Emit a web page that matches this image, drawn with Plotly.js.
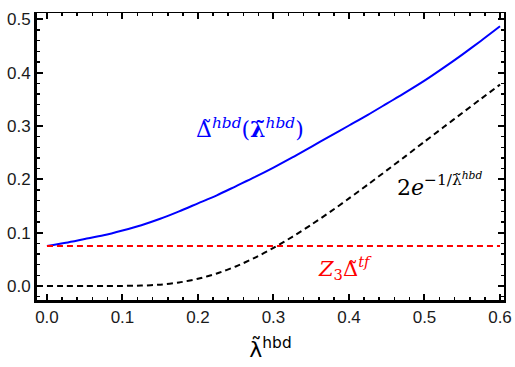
<!DOCTYPE html>
<html>
<head>
<meta charset="utf-8">
<script src="https://cdn.plot.ly/plotly-3.0.1.min.js"></script>
<style>
  html, body { margin: 0; padding: 0; background: #fff; }
  #chart { width: 515px; height: 367px; }
</style>
</head>
<body>
<div id="chart"></div>
<script>
/* ---- values ---- */
var lam = [0, 0.025, 0.05, 0.075, 0.1, 0.125, 0.15, 0.175, 0.2, 0.225, 0.25, 0.275, 0.3,
           0.325, 0.35, 0.375, 0.4, 0.425, 0.45, 0.475, 0.5, 0.525, 0.55, 0.575, 0.6];
var gapHbd = [0.075, 0.081, 0.088, 0.095, 0.104, 0.114, 0.126, 0.140, 0.155, 0.170, 0.187,
              0.204, 0.222, 0.241, 0.261, 0.281, 0.301, 0.321, 0.342, 0.363, 0.385, 0.409,
              0.434, 0.460, 0.487];
var bcs = [0, 0, 0, 0, 0.0001, 0.0007, 0.0025, 0.0066, 0.0135, 0.0234, 0.0366, 0.0527, 0.0714,
           0.0923, 0.1149, 0.1389, 0.1642, 0.1902, 0.2168, 0.2436, 0.2707, 0.2976, 0.3245,
           0.3512, 0.3777];
var tfX = [0, 0.6];
var tfGap = [0.075, 0.075];

var xRange = [-0.0132, 0.6053];
var yRange = [-0.0263, 0.512];

var mathFont = 'DejaVu Serif, serif';

var traces = [
  { x: lam, y: gapHbd, type: 'scatter', mode: 'lines',
    line: { color: '#0000ff', width: 2, shape: 'spline', smoothing: 0.8 }, hoverinfo: 'skip' },
  { x: lam, y: bcs, type: 'scatter', mode: 'lines',
    line: { color: '#000', width: 2, dash: '6px,4px', shape: 'spline', smoothing: 0.8 }, hoverinfo: 'skip' },
  { x: tfX, y: tfGap, type: 'scatter', mode: 'lines',
    line: { color: '#ff0000', width: 2, dash: '6px,4px' }, hoverinfo: 'skip' }
];

var tickFont = { family: 'Liberation Sans, Arial, sans-serif', size: 17, color: '#1a1a1a' };
var minorTicks = { ticks: 'inside', ticklen: 3, tickwidth: 1.5, tickcolor: '#000', dtick: 0.02, tick0: 0, showgrid: false };

var layout = {
  width: 515, height: 367,
  margin: { l: 37, r: 11, t: 13, b: 67, pad: 0 },
  paper_bgcolor: '#fff', plot_bgcolor: '#fff',
  showlegend: false,
  xaxis: {
    range: xRange, showgrid: false, zeroline: false,
    showline: true, linecolor: '#000', linewidth: 3,
    ticks: 'inside', ticklen: 6, tickwidth: 2, tickcolor: '#000',
    tick0: 0, dtick: 0.1, tickformat: '.1f', tickfont: tickFont,
    minor: minorTicks,
    title: { text: 'λ̃<sup>hbd</sup>', font: { family: 'DejaVu Sans, sans-serif', size: 22, color: '#000' }, standoff: 16 }
  },
  yaxis: {
    range: yRange, showgrid: false, zeroline: false,
    showline: true, linecolor: '#000', linewidth: 3,
    ticks: 'inside', ticklen: 6, tickwidth: 2, tickcolor: '#000',
    tick0: 0, dtick: 0.1, tickformat: '.1f', tickfont: tickFont,
    minor: minorTicks
  },
  xaxis2: {
    overlaying: 'x', side: 'top', matches: 'x', range: xRange,
    showgrid: false, zeroline: false, showticklabels: false,
    showline: true, linecolor: '#000', linewidth: 1.5,
    ticks: 'inside', ticklen: 6, tickwidth: 2, tickcolor: '#000', tick0: 0, dtick: 0.1,
    minor: minorTicks
  },
  yaxis2: {
    overlaying: 'y', side: 'right', range: yRange,
    showgrid: false, zeroline: false, showticklabels: false,
    showline: true, linecolor: '#000', linewidth: 1.5,
    ticks: 'inside', ticklen: 6, tickwidth: 2, tickcolor: '#000', tick0: 0, dtick: 0.1,
    minor: minorTicks
  },
  annotations: [
    { x: 0.269, y: 0.296, xref: 'x', yref: 'y', showarrow: false, xanchor: 'center', yanchor: 'middle',
      text: 'Δ̃<sup><i>hbd</i></sup>(<b>λ̃</b><sup><i>hbd</i></sup>)',
      font: { family: mathFont, size: 22, color: '#0000ff' } },
    { x: 0.52, y: 0.19, xref: 'x', yref: 'y', showarrow: false, xanchor: 'center', yanchor: 'middle',
      text: '2<i>e</i><sup>−1/λ̃<i><sup>hbd</sup></i></sup>',
      font: { family: mathFont, size: 22, color: '#000' } },
    { x: 0.395, y: 0.034, xref: 'x', yref: 'y', showarrow: false, xanchor: 'center', yanchor: 'middle',
      text: '<i>Z</i><sub>3</sub>Δ̃<sup><i>tf</i></sup>',
      font: { family: mathFont, size: 21, color: '#ff0000' } }
  ]
};

// invisible point so the mirrored top/right axes get drawn
traces.push({ x: [0], y: [0], xaxis: 'x2', yaxis: 'y2', mode: 'markers', marker: { opacity: 0 }, hoverinfo: 'skip' });

Plotly.newPlot('chart', traces, layout, { displayModeBar: false, staticPlot: true });
</script>
</body>
</html>
